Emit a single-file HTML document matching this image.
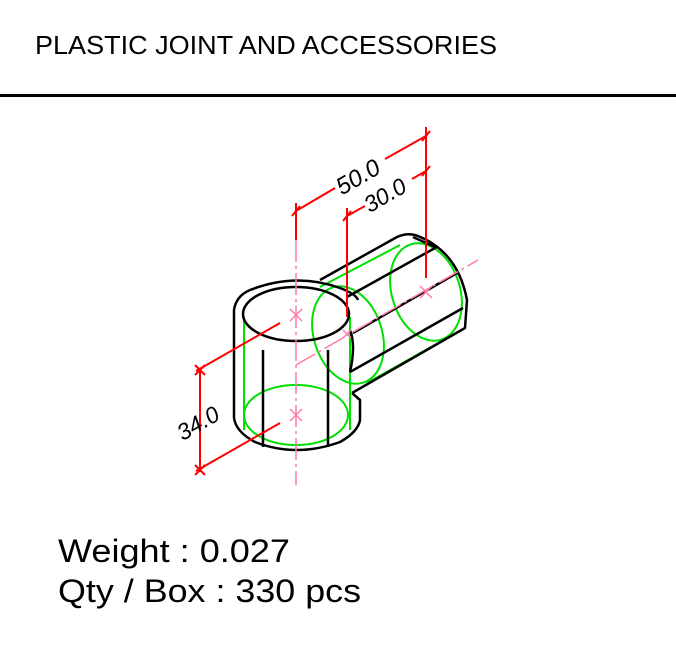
<!DOCTYPE html>
<html><head><meta charset="utf-8"><style>
html,body{margin:0;padding:0;background:#fff;}
svg{display:block;}
</style></head><body>
<svg width="676" height="648" viewBox="0 0 676 648" xmlns="http://www.w3.org/2000/svg">
<rect width="676" height="648" fill="#fff"/>
<text x="35" y="54" font-family="Liberation Sans, sans-serif" font-size="26" textLength="462" lengthAdjust="spacingAndGlyphs">PLASTIC JOINT AND ACCESSORIES</text>
<rect x="0" y="94" width="676" height="3" fill="#000"/>

<!-- green hidden lines -->
<g fill="none" stroke="#00e000" stroke-width="2">
<line x1="244" y1="317" x2="244" y2="430"/>
<line x1="350" y1="317" x2="350" y2="430"/>
<ellipse cx="296" cy="415" rx="52" ry="30"/>
<ellipse cx="348" cy="335" rx="34" ry="50" transform="rotate(-18 348 335)"/>
<ellipse cx="426" cy="292" rx="34" ry="50" transform="rotate(-18 426 292)"/>
<line x1="320" y1="287" x2="400" y2="245"/>
<line x1="367" y1="383" x2="447" y2="338"/>
</g>

<!-- black outline -->
<g fill="none" stroke="#000" stroke-width="2.5" stroke-linejoin="round">
<path d="M234 418 L234 310 Q236 296 250 290 Q296 272 340 288 Q356 294 358 300"/>
<ellipse cx="296" cy="314" rx="53" ry="27"/>
<line x1="263" y1="350" x2="263" y2="447"/>
<line x1="328" y1="350" x2="328" y2="447"/>
<path d="M234 418 Q236 432 255 442 Q296 458 340 442 Q358 432 360 420 L360 400 L352 393"/>
<path d="M320 280 L397 237 Q408 232 418 236 Q458 252 467 300 L465 328 L352 393"/>
<line x1="413" y1="237" x2="437" y2="248"/>
<line x1="347" y1="297" x2="435" y2="248"/>
<line x1="353" y1="333" x2="457" y2="273"/>
<line x1="350" y1="372" x2="463" y2="308"/>
<path d="M350 330 Q356 345 350 372" />
</g>

<!-- pink center lines -->
<g stroke="#ff7aa8" stroke-width="1.5" fill="none">
<line x1="296" y1="240" x2="296" y2="485" stroke-dasharray="22 4 3 4"/>
<line x1="296" y1="365" x2="478" y2="260" stroke-dasharray="22 4 3 4"/>
<path d="M290 309 l12 12 M302 309 l-12 12"/>
<path d="M290 409 l12 12 M302 409 l-12 12"/>
<path d="M420 286 l12 12 M432 286 l-12 12"/>
<path d="M343 330 l8 8 M351 330 l-8 8"/>
</g>

<!-- red dimensions -->
<g stroke="#ff0000" stroke-width="2" fill="none">
<line x1="296" y1="203" x2="296" y2="240"/>
<line x1="426" y1="127" x2="426" y2="278"/>
<line x1="347" y1="208" x2="347" y2="317"/>
<path d="M296 211 L335 188 M385 159 L426 136"/>
<path d="M347 216 L365 206 M412 179 L426 171"/>
<path d="M292 216 l8 -10 M422 141 l8 -10 M343 221 l8 -10 M422 176 l8 -10"/>
<line x1="280" y1="323" x2="196" y2="371"/>
<line x1="280" y1="423" x2="196" y2="471"/>
<line x1="200" y1="369" x2="200" y2="472"/>
<path d="M195 365 l10 10 M205 365 l-10 10 M195 465 l10 10 M205 465 l-10 10"/>
</g>
<g font-family="Liberation Sans, sans-serif" font-style="italic" fill="#000">
<text x="362" y="184" font-size="24" text-anchor="middle" transform="rotate(-30 362 184)">50.0</text>
<text x="389" y="202" font-size="23" text-anchor="middle" transform="rotate(-30 389 202)">30.0</text>
<text x="202" y="430" font-size="23" text-anchor="middle" transform="rotate(-30 202 430)">34.0</text>
</g>

<g font-family="Liberation Sans, sans-serif" font-size="32" fill="#000">
<text x="58" y="562" textLength="232" lengthAdjust="spacingAndGlyphs">Weight : 0.027</text>
<text x="58" y="602" textLength="303" lengthAdjust="spacingAndGlyphs">Qty / Box : 330 pcs</text>
</g>
</svg>
</body></html>
